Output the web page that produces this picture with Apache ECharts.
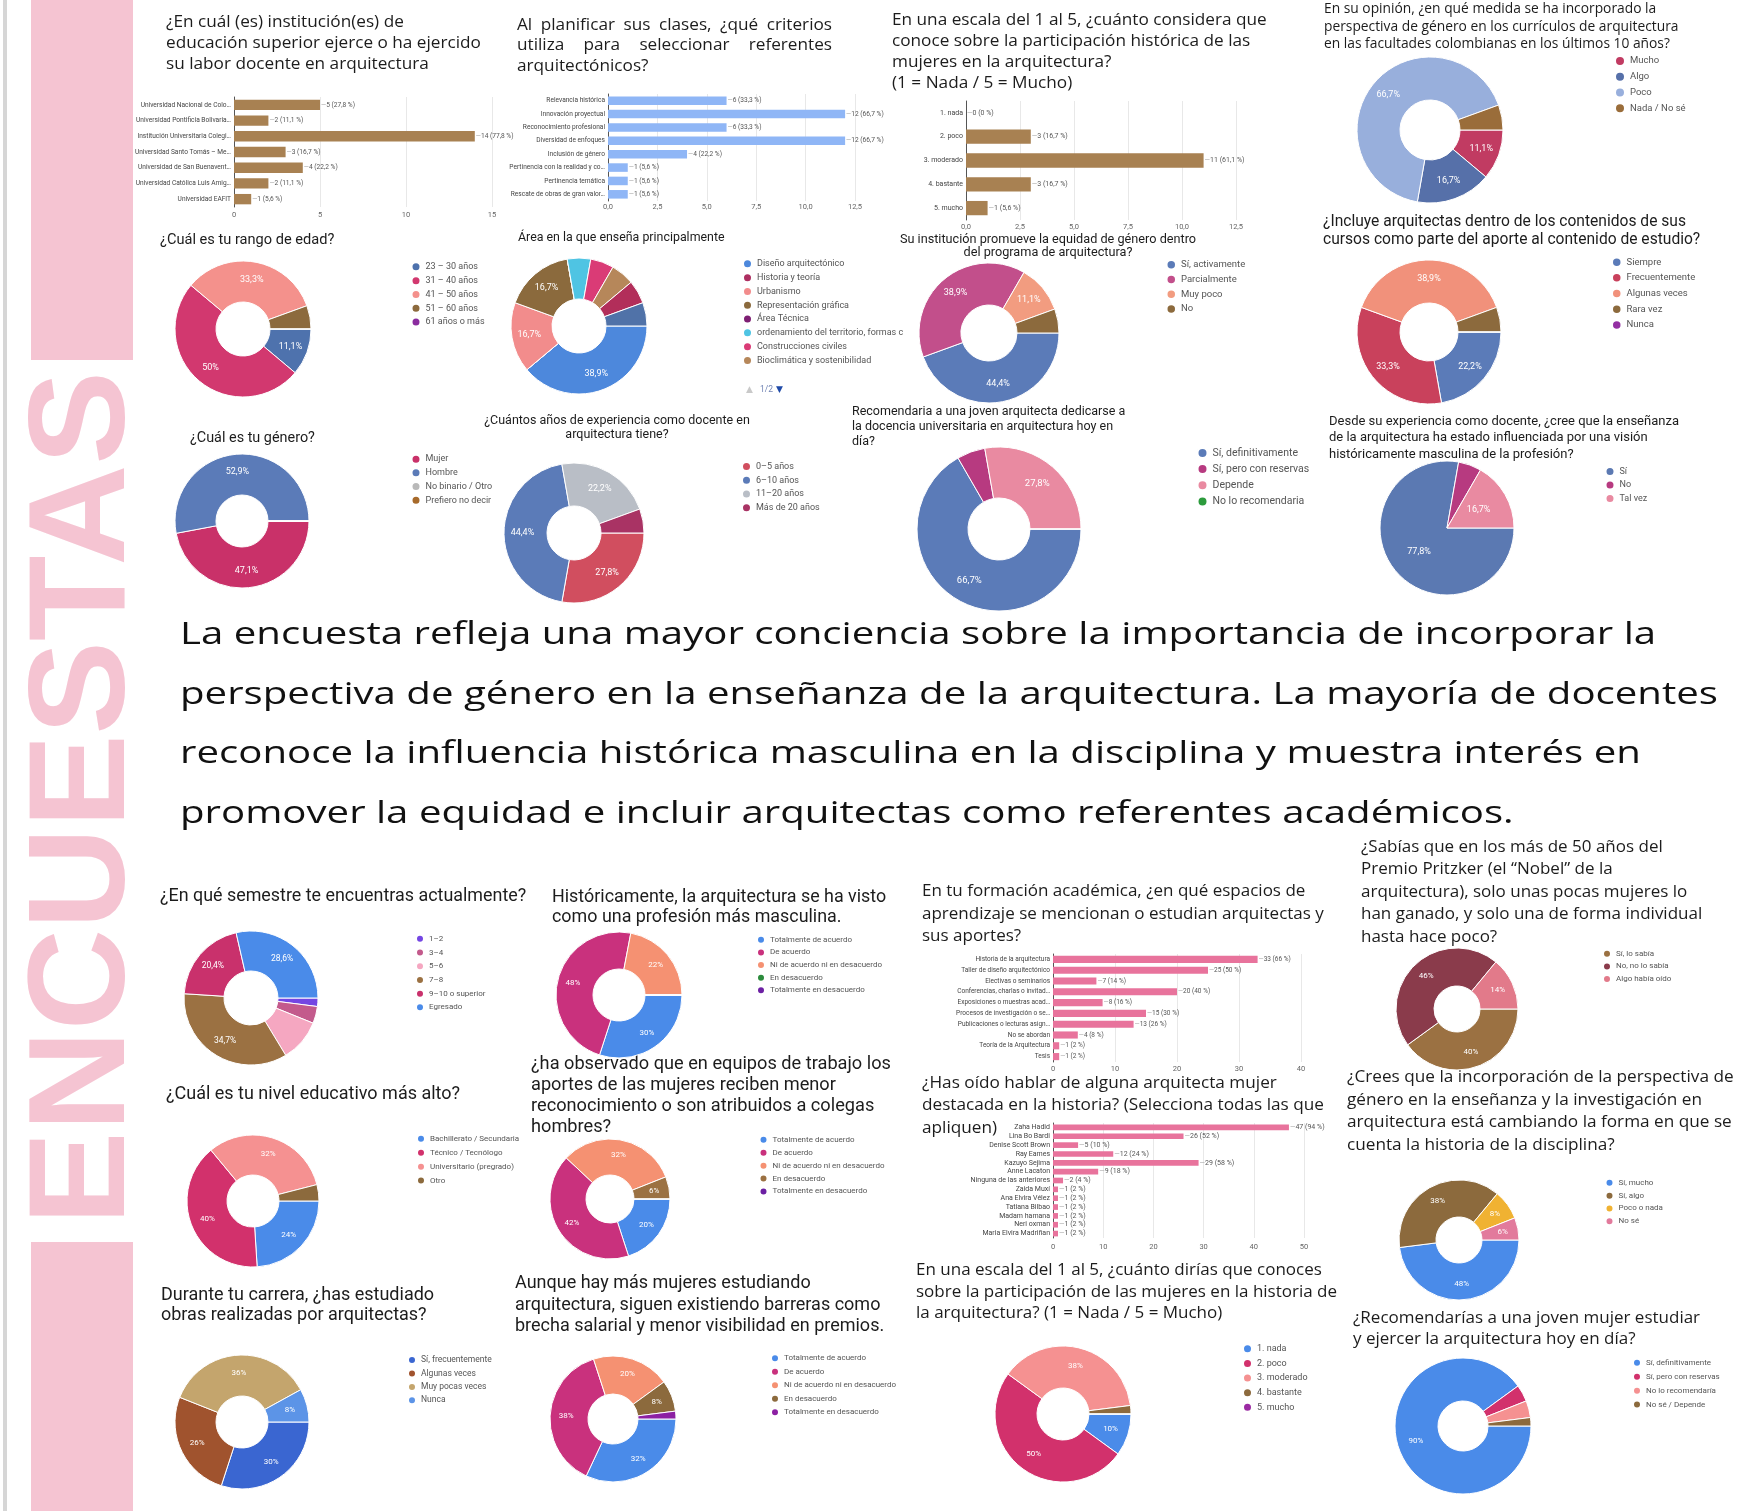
<!DOCTYPE html>
<html>
<head>
<meta charset="utf-8">
<script src="https://cdn.jsdelivr.net/npm/echarts@6/dist/echarts.min.js"></script>
<style>
html,body{margin:0;padding:0;background:#ffffff;}
#chart{width:1763px;height:1511px;}
</style>
</head>
<body>
<div id="chart"></div>
<script>
// ---------------- survey data ----------------
const teacherRespondents = 18;
const studentRespondents = 50;

// bar: institutions
const instCategories = ['Universidad Nacional de Colo…','Universidad Pontificia Bolivaria…','Institución Universitaria Colegi…','Universidad Santo Tomás – Me…','Universidad de San Buenavent…','Universidad Católica Luis Amig…','Universidad EAFIT'];
const instCounts = [5, 2, 14, 3, 4, 2, 1];

// bar: criteria for references
const criteriaCategories = ['Relevancia histórica','Innovación proyectual','Reconocimiento profesional','Diversidad de enfoques','Inclusión de género','Pertinencia con la realidad y co…','Pertinencia temática','Rescate de obras de gran valor…'];
const criteriaCounts = [6, 12, 6, 12, 4, 1, 1, 1];

// bar: knowledge scale (teachers)
const knowledgeCategories = ['1. nada','2. poco','3. moderado','4. bastante','5. mucho'];
const knowledgeCounts = [0, 3, 11, 3, 1];

// bar: learning spaces
const spaceCategories = ['Historia de la arquitectura','Taller de diseño arquitectónico','Electivas o seminarios','Conferencias, charlas o invitad…','Exposiciones o muestras acad…','Procesos de investigación o se…','Publicaciones o lecturas asign…','No se abordan','Teoría de la Arquitectura','Tesis'];
const spaceCounts = [33, 25, 7, 20, 8, 15, 13, 4, 1, 1];

// bar: known women architects
const architectCategories = ['Zaha Hadid','Lina Bo Bardi','Denise Scott Brown','Ray Eames','Kazuyo Sejima','Anne Lacaton','Ninguna de las anteriores','Zaida Muxí','Ana Elvira Vélez','Tatiana Bilbao','Madam hamana','Neri oxman','Maria Elvira Madriñan'];
const architectCounts = [47, 26, 5, 12, 29, 9, 2, 1, 1, 1, 1, 1, 1];

// pies (teachers)
const curriculumNames = ['Mucho','Algo','Poco','Nada / No sé'];
const curriculumCounts = [2, 3, 12, 1];
const curriculumColors = ['#c13b62','#5670a9','#98afdc','#9a6d3a'];

const ageNames = ['23 – 30 años','31 – 40 años','41 – 50 años','51 – 60 años','61 años o más'];
const ageCounts = [2, 9, 6, 1, 0];
const ageColors = ['#4e72ad','#d2386f','#f4918c','#8c6a3d','#8b2c9f'];

const areaNames = ['Diseño arquitectónico','Historia y teoría','Urbanismo','Representación gráfica','Área Técnica','ordenamiento del territorio, formas c','Construcciones civiles','Bioclimática y sostenibilidad','Otra área (1)','Otra área (2)'];
const areaCounts = [7, 0, 3, 3, 0, 1, 1, 1, 1, 1];
const areaColors = ['#4d88dc','#ad2f61','#f28c8c','#8b6a3d','#7e1f73','#4fc4e3','#da3b76','#b6875a','#b22e5a','#5072a8'];
const areaLegendPage = '1/2';

const equityNames = ['Sí, activamente','Parcialmente','Muy poco','No'];
const equityCounts = [8, 7, 2, 1];
const equityColors = ['#5b7bb8','#c24f8b','#f29c80','#8c6a3d'];

const includeNames = ['Siempre','Frecuentemente','Algunas veces','Rara vez','Nunca'];
const includeCounts = [4, 6, 7, 1, 0];
const includeColors = ['#5b7bb8','#c9415c','#f1917b','#8c6a3d','#9430a3'];

const genderNames = ['Mujer','Hombre','No binario / Otro','Prefiero no decir'];
const genderCounts = [8, 9, 0, 0];
const genderColors = ['#c93169','#5b7bb8','#b9b9b9','#a76a2b'];

const experienceNames = ['0–5 años','6–10 años','11–20 años','Más de 20 años'];
const experienceCounts = [5, 8, 4, 1];
const experienceColors = ['#d14e5f','#5b7bb8','#b9bec6','#a93364'];

const teachingNames = ['Sí, definitivamente','Sí, pero con reservas','Depende','No lo recomendaria'];
const teachingCounts = [12, 1, 5, 0];
const teachingColors = ['#5b7bb8','#b73a80','#e98aa1','#2c9b3c'];

const masculineNames = ['Sí','No','Tal vez'];
const masculineCounts = [14, 1, 3];
const masculineColors = ['#5b79b2','#b73a80','#e98aa1'];

// pies (students)
const semesterNames = ['1–2','3–4','5–6','7–8','9–10 o superior','Egresado'];
const semesterCounts = [1, 2, 5, 17, 10, 14];
const semesterColors = ['#7446e3','#c35a8c','#f5a7c1','#9b7142','#c9316c','#4a8be9'];

const agreeNames = ['Totalmente de acuerdo','De acuerdo','Ni de acuerdo ni en desacuerdo','En desacuerdo','Totalmente en desacuerdo'];
const historicCounts = [15, 24, 11, 0, 0];
const historicColors = ['#4a8be9','#c9317d','#f59172','#2b8b3c','#6c20a3'];

const pritzkerNames = ['Sí, lo sabía','No, no lo sabía','Algo había oído'];
const pritzkerCounts = [20, 23, 7];
const pritzkerColors = ['#9b7142','#8a3b4b','#e27a8a'];

const levelNames = ['Bachillerato / Secundaria','Técnico / Tecnólogo','Universitario (pregrado)','Otro'];
const levelCounts = [12, 20, 16, 2];
const levelColors = ['#4a8be9','#d2316c','#f59191','#8c6a3d'];

const recognitionCounts = [10, 21, 16, 3, 0];
const recognitionColors = ['#4a8be9','#c9317d','#f59172','#9b7142','#6c20a3'];

const changeNames = ['Sí, mucho','Sí, algo','Poco o nada','No sé'];
const changeCounts = [24, 19, 4, 3];
const changeColors = ['#4a8be9','#8c6a3d','#f0b232','#e27a9c'];

const studiedNames = ['Sí, frecuentemente','Algunas veces','Muy pocas veces','Nunca'];
const studiedCounts = [15, 13, 18, 4];
const studiedColors = ['#3a66d1','#a0532e','#c4a56d','#5c94e7'];

const barriersCounts = [16, 19, 10, 4, 1];
const barriersColors = ['#4a8be9','#c9317d','#f59172','#8c6a3d','#8c20a3'];

const scaleNames = ['1. nada','2. poco','3. moderado','4. bastante','5. mucho'];
const scaleCounts = [5, 25, 19, 1, 0];
const scaleColors = ['#4a8be9','#d2316c','#f59191','#8c6a3d','#9b2ba3'];

const adviseNames = ['Sí, definitivamente','Sí, pero con reservas','No lo recomendaría','No sé / Depende'];
const adviseCounts = [45, 2, 2, 1];
const adviseColors = ['#4a8be9','#d2316c','#f59191','#8c6a3d'];

// summary paragraph
const summaryLines = [
  'La encuesta refleja una mayor conciencia sobre la importancia de incorporar la',
  'perspectiva de género en la enseñanza de la arquitectura. La mayoría de docentes',
  'reconoce la influencia histórica masculina en la disciplina y muestra interés en',
  'promover la equidad e incluir arquitectas como referentes académicos.'
];
const sideWord = 'ENCUESTAS';

// ---------------- helpers ----------------
const GEO = '"Open Sans", "Noto Sans", sans-serif';
const COND = 'Roboto, "Noto Sans", sans-serif';
const PINK = '#f5c4d2';
const INK = '#1c1c1c';

function fmtPct(p) {
  const r = Math.round(p * 10) / 10;
  return (Number.isInteger(r) ? String(r) : r.toFixed(1)).replace('.', ',');
}

const measureCtx = document.createElement('canvas').getContext('2d');
function textWidth(text, font) { measureCtx.font = font; return measureCtx.measureText(text).width; }

const grids = [], xAxes = [], yAxes = [], series = [], legends = [], graphics = [];

function barPanel(cats, counts, n, color, g) {
  const idx = grids.length;
  grids.push({ left: g.left, top: g.top, width: g.width, height: g.height });
  xAxes.push({
    gridIndex: idx, type: 'value', min: 0, max: g.max, interval: g.interval,
    axisLine: { show: false }, axisTick: { show: false },
    splitLine: { lineStyle: { color: '#e8e8e8', width: 1 } },
    axisLabel: { fontSize: 7.5, color: '#666', margin: g.margin, fontFamily: COND,
      formatter: v => g.decimals ? v.toFixed(1).replace('.', ',') : String(v) }
  });
  yAxes.push({
    gridIndex: idx, type: 'category', inverse: true, data: cats,
    axisLine: { lineStyle: { color: '#555', width: 1 } }, axisTick: { show: false },
    axisLabel: { interval: 0, fontSize: g.fs, color: '#444', margin: 3, fontFamily: COND }
  });
  series.push({
    type: 'bar', xAxisIndex: idx, yAxisIndex: idx, data: counts,
    barCategoryGap: g.gap, itemStyle: { color: color }, silent: true,
    label: {
      show: true, position: 'right', distance: 1, fontSize: g.fs, color: '#555', fontFamily: COND,
      formatter: p => '{d|—}' + p.value + ' (' + fmtPct(p.value / n * 100) + ' %)',
      rich: { d: { color: '#aaa', fontSize: g.fs } }
    }
  });
}

// legend row height follows the text box, which is a little taller than the font size
function piePanel(names, counts, colors, p, lg) {
  const total = counts.reduce((a, b) => a + b, 0);
  series.push({
    type: 'pie', center: [p.cx, p.cy], radius: [p.r0, p.r], startAngle: 0, clockwise: true,
    silent: true, avoidLabelOverlap: false,
    itemStyle: { borderColor: '#fff', borderWidth: 1 },
    label: {
      show: true, position: 'inside', color: '#fff', fontSize: p.fs, fontFamily: COND,
      formatter: d => (d.value / total * 100 >= p.minLabel ? fmtPct(d.value / total * 100) + '%' : '')
    },
    labelLine: { show: false },
    data: names.map((nm, i) => ({ name: nm, value: counts[i], itemStyle: { color: colors[i] } }))
  });
  const shown = lg.count ? names.slice(0, lg.count) : names;
  const rowH = Math.max(lg.dot, lg.fs + 2.3);
  legends.push({
    orient: 'vertical', left: lg.left, top: lg.cy - rowH / 2, icon: 'circle',
    itemWidth: lg.dot, itemHeight: lg.dot, itemGap: lg.step - rowH,
    selectedMode: false, padding: 0,
    textStyle: { fontSize: lg.fs, color: '#555', fontFamily: COND },
    data: shown.map((nm, i) => ({ name: nm, itemStyle: { color: colors[i] } }))
  });
}

function heading(text, x, y, size, family, lh, align) {
  graphics.push({
    type: 'text', silent: true,
    style: { text: text, x: x, y: y, fontSize: size, fontFamily: family, lineHeight: lh,
      fill: INK, textAlign: align || 'left', textVerticalAlign: 'top' }
  });
}

// one line spread word by word over a fixed width
function justifiedLine(line, x, y, width, size, family, lh) {
  const words = line.split(' ');
  const font = size + 'px ' + family;
  const ws = words.map(w => textWidth(w, font));
  const gap = (width - ws.reduce((a, b) => a + b, 0)) / (words.length - 1);
  let cx = x;
  words.forEach((w, i) => {
    graphics.push({ type: 'text', silent: true,
      style: { text: w, x: cx, y: y, fontSize: size, fontFamily: family, lineHeight: lh,
        fill: INK, textAlign: 'left', textVerticalAlign: 'top' } });
    cx += ws[i] + gap;
  });
}

// ---------------- bar panels ----------------
barPanel(instCategories, instCounts, teacherRespondents, '#a88152',
  { left: 234, top: 97, width: 258, height: 110, max: 15, interval: 5, decimals: false, margin: 4, gap: '34%', fs: 6.6 });
barPanel(criteriaCategories, criteriaCounts, teacherRespondents, '#8fb6f6',
  { left: 608, top: 94, width: 247, height: 107, max: 12.5, interval: 2.5, decimals: true, margin: 2, gap: '36%', fs: 6.6 });
barPanel(knowledgeCategories, knowledgeCounts, teacherRespondents, '#a88152',
  { left: 966, top: 101, width: 270, height: 119, max: 12.5, interval: 2.5, decimals: true, margin: 3, gap: '40%', fs: 7 });
barPanel(spaceCategories, spaceCounts, studentRespondents, '#e8739c',
  { left: 1053, top: 954, width: 248, height: 108, max: 40, interval: 10, decimals: false, margin: 3, gap: '34%', fs: 6.5 });
barPanel(architectCategories, architectCounts, studentRespondents, '#e8739c',
  { left: 1053, top: 1123, width: 251, height: 115, max: 50, interval: 10, decimals: false, margin: 5, gap: '36%', fs: 7 });

// ---------------- pie panels ----------------
piePanel(curriculumNames, curriculumCounts, curriculumColors, { cx: 1430, cy: 130, r0: 30, r: 73, fs: 9, minLabel: 10 }, { left: 1614, cy: 61, dot: 10, step: 15.5, fs: 9.5 });
piePanel(ageNames, ageCounts, ageColors, { cx: 243, cy: 329, r0: 27, r: 68, fs: 9, minLabel: 10 }, { left: 410.5, cy: 267, dot: 9, step: 14.1, fs: 9 });
piePanel(areaNames, areaCounts, areaColors, { cx: 579, cy: 326, r0: 27, r: 68, fs: 9, minLabel: 10 }, { left: 742, cy: 264, dot: 9, step: 14.1, fs: 9, count: 8 });
piePanel(equityNames, equityCounts, equityColors, { cx: 989, cy: 333, r0: 28, r: 70, fs: 9, minLabel: 10 }, { left: 1165.5, cy: 265, dot: 9.5, step: 15, fs: 9.5 });
piePanel(includeNames, includeCounts, includeColors, { cx: 1429, cy: 332, r0: 29, r: 72, fs: 9, minLabel: 10 }, { left: 1611, cy: 262.3, dot: 9.5, step: 16, fs: 9.5 });
piePanel(genderNames, genderCounts, genderColors, { cx: 242, cy: 521, r0: 26, r: 67, fs: 9, minLabel: 10 }, { left: 410.5, cy: 459.3, dot: 9, step: 14, fs: 9 });
piePanel(experienceNames, experienceCounts, experienceColors, { cx: 574, cy: 533, r0: 27, r: 70, fs: 9, minLabel: 10 }, { left: 741, cy: 466.7, dot: 9, step: 14, fs: 9 });
piePanel(teachingNames, teachingCounts, teachingColors, { cx: 999, cy: 529, r0: 31, r: 82, fs: 9.5, minLabel: 10 }, { left: 1196.5, cy: 453.3, dot: 10, step: 17, fs: 10.5 });
piePanel(masculineNames, masculineCounts, masculineColors, { cx: 1447, cy: 528, r0: 0, r: 67, fs: 9, minLabel: 10 }, { left: 1604.5, cy: 471.7, dot: 9, step: 13.8, fs: 9 });

piePanel(semesterNames, semesterCounts, semesterColors, { cx: 251, cy: 998, r0: 27, r: 67, fs: 8.5, minLabel: 11 }, { left: 415, cy: 939, dot: 8, step: 14, fs: 8 });
piePanel(agreeNames, historicCounts, historicColors, { cx: 619, cy: 995, r0: 26, r: 63, fs: 8, minLabel: 5 }, { left: 756, cy: 940, dot: 8, step: 12.9, fs: 8 });
piePanel(pritzkerNames, pritzkerCounts, pritzkerColors, { cx: 1457, cy: 1009, r0: 23, r: 61, fs: 8, minLabel: 5 }, { left: 1602, cy: 954, dot: 8, step: 12.9, fs: 8 });
piePanel(levelNames, levelCounts, levelColors, { cx: 253, cy: 1201, r0: 26, r: 66, fs: 8, minLabel: 5 }, { left: 416, cy: 1139, dot: 8, step: 14.2, fs: 8 });
piePanel(agreeNames, recognitionCounts, recognitionColors, { cx: 610, cy: 1199, r0: 24, r: 60, fs: 8, minLabel: 5 }, { left: 758.5, cy: 1140, dot: 8, step: 13.2, fs: 8 });
piePanel(changeNames, changeCounts, changeColors, { cx: 1459, cy: 1240, r0: 23, r: 60, fs: 8, minLabel: 5 }, { left: 1604.5, cy: 1183, dot: 8, step: 13.1, fs: 8 });
piePanel(studiedNames, studiedCounts, studiedColors, { cx: 242, cy: 1422, r0: 26, r: 67, fs: 8, minLabel: 5 }, { left: 407, cy: 1360.5, dot: 8, step: 14.2, fs: 8.5 });
piePanel(agreeNames, barriersCounts, barriersColors, { cx: 613, cy: 1419, r0: 25, r: 63, fs: 8, minLabel: 5 }, { left: 770, cy: 1358.3, dot: 8, step: 13.8, fs: 8 });
piePanel(scaleNames, scaleCounts, scaleColors, { cx: 1063, cy: 1414, r0: 26, r: 68, fs: 8, minLabel: 5 }, { left: 1242, cy: 1349, dot: 9, step: 14.9, fs: 9 });
piePanel(adviseNames, adviseCounts, adviseColors, { cx: 1463, cy: 1426, r0: 25, r: 68, fs: 8, minLabel: 5 }, { left: 1632, cy: 1363, dot: 8, step: 14.2, fs: 8 });

// legend page indicator under the area legend
graphics.push({ type: 'text', silent: true, style: { text: '▲', x: 746, y: 390, fontSize: 9, fontFamily: '"DejaVu Sans"', fill: '#c9c9c9', textVerticalAlign: 'middle' } });
graphics.push({ type: 'text', silent: true, style: { text: areaLegendPage, x: 760, y: 390, fontSize: 8.5, fontFamily: COND, fill: '#7285b5', textVerticalAlign: 'middle' } });
graphics.push({ type: 'text', silent: true, style: { text: '▼', x: 776, y: 390, fontSize: 9, fontFamily: '"DejaVu Sans"', fill: '#1f4aa8', textVerticalAlign: 'middle' } });

// ---------------- side band and headline word ----------------
graphics.push({ type: 'rect', silent: true, shape: { x: 3, y: 0, width: 4, height: 1511 }, style: { fill: '#d6d6d6' } });
graphics.push({ type: 'rect', silent: true, shape: { x: 31, y: 0, width: 102, height: 360 }, style: { fill: PINK } });
graphics.push({ type: 'rect', silent: true, shape: { x: 31, y: 1242, width: 102, height: 269 }, style: { fill: PINK } });

const sideFont = 'bold 138px "Liberation Sans"';
const sideScale = 854 / textWidth(sideWord, sideFont);
graphics.push({
  type: 'text', silent: true, x: 86, y: 798, rotation: Math.PI / 2, scaleX: sideScale,
  style: { text: sideWord, x: 0, y: 0, font: sideFont, fill: PINK, textAlign: 'center', textVerticalAlign: 'middle' }
});

// ---------------- summary paragraph ----------------
const summaryFont = '31px "Open Sans"';
const summaryScale = 1538 / textWidth(summaryLines[1], summaryFont);
const summaryY = [635, 695, 754, 814];
summaryLines.forEach((line, i) => {
  graphics.push({
    type: 'text', silent: true, x: 180, y: summaryY[i], scaleX: summaryScale,
    style: { text: line, x: 0, y: 0, font: summaryFont, fill: '#111', textAlign: 'left', textVerticalAlign: 'middle' }
  });
});

// ---------------- question headings ----------------
heading('¿En cuál (es) institución(es) de\neducación superior ejerce o ha ejercido\nsu labor docente en arquitectura', 166, 12, 17.2, GEO, 20.7);
justifiedLine('Al planificar sus clases, ¿qué criterios', 517, 14.3, 315, 17.2, GEO, 20.8);
justifiedLine('utiliza para seleccionar referentes', 517, 35, 315, 17.2, GEO, 20.8);
heading('arquitectónicos?', 517, 56, 17.2, GEO, 20.8);
heading('En una escala del 1 al 5, ¿cuánto considera que\nconoce sobre la participación histórica de las\nmujeres en la arquitectura?\n(1 = Nada / 5 = Mucho)', 892, 9.7, 17.2, GEO, 21);
heading('En su opinión, ¿en qué medida se ha incorporado la\nperspectiva de género en los currículos de arquitectura\nen las facultades colombianas en los últimos 10 años?', 1324, 0, 13.8, GEO, 17.8);

heading('¿Cuál es tu rango de edad?', 160, 232, 14.6, COND, 16);
heading('Área en la que enseña principalmente', 518, 231, 12.4, COND, 14);
heading('Su institución promueve la equidad de género dentro\ndel programa de arquitectura?', 1048, 233, 12.7, COND, 13.5, 'center');
heading('¿Incluye arquitectas dentro de los contenidos de sus\ncursos como parte del aporte al contenido de estudio?', 1323, 213, 15.6, COND, 18);
heading('¿Cuál es tu género?', 190, 430, 14.4, COND, 16);
heading('¿Cuántos años de experiencia como docente en\narquitectura tiene?', 617, 414.5, 12.5, COND, 13.5, 'center');
heading('Recomendaria a una joven arquitecta dedicarse a\nla docencia universitaria en arquitectura hoy en\ndía?', 852, 404, 12.5, COND, 15.3);
heading('Desde su experiencia como docente, ¿cree que la enseñanza\nde la arquitectura ha estado influenciada por una visión\nhistóricamente masculina de la profesión?', 1329, 413.5, 13, COND, 16.3);

heading('¿En qué semestre te encuentras actualmente?', 160, 887, 17.9, COND, 20);
heading('Históricamente, la arquitectura se ha visto\ncomo una profesión más masculina.', 552, 888, 17.9, COND, 20);
heading('En tu formación académica, ¿en qué espacios de\naprendizaje se mencionan o estudian arquitectas y\nsus aportes?', 922, 880, 17, GEO, 22.5);
heading('¿Has oído hablar de alguna arquitecta mujer\ndestacada en la historia? (Selecciona todas las que\napliquen)', 922, 1071.5, 17.2, GEO, 22.5);
heading('¿Sabías que en los más de 50 años del\nPremio Pritzker (el “Nobel” de la\narquitectura), solo unas pocas mujeres lo\nhan ganado, y solo una de forma individual\nhasta hace poco?', 1361, 835.5, 17, GEO, 22.5);
heading('¿Cuál es tu nivel educativo más alto?', 166, 1084, 18, COND, 20);
heading('¿ha observado que en equipos de trabajo los\naportes de las mujeres reciben menor\nreconocimiento o son atribuidos a colegas\nhombres?', 531, 1053.5, 18.2, COND, 21);
heading('¿Crees que la incorporación de la perspectiva de\ngénero en la enseñanza y la investigación en\narquitectura está cambiando la forma en que se\ncuenta la historia de la disciplina?', 1347, 1066, 17.2, GEO, 22.5);
heading('Durante tu carrera, ¿has estudiado\nobras realizadas por arquitectas?', 161, 1285, 18, COND, 20.5);
heading('Aunque hay más mujeres estudiando\narquitectura, siguen existiendo barreras como\nbrecha salarial y menor visibilidad en premios.', 515, 1273, 18, COND, 21.5);
heading('En una escala del 1 al 5, ¿cuánto dirías que conoces\nsobre la participación de las mujeres en la historia de\nla arquitectura? (1 = Nada / 5 = Mucho)', 916, 1260, 17, GEO, 21.3);
heading('¿Recomendarías a una joven mujer estudiar\ny ejercer la arquitectura hoy en día?', 1353, 1308, 17, GEO, 20.5);

// ---------------- chart ----------------
const chart = echarts.init(document.getElementById('chart'), null, { renderer: 'canvas' });
chart.setOption({
  backgroundColor: '#ffffff',
  animation: false,
  textStyle: { fontFamily: COND },
  grid: grids,
  xAxis: xAxes,
  yAxis: yAxes,
  legend: legends,
  series: series,
  graphic: graphics
});
</script>
</body>
</html>
